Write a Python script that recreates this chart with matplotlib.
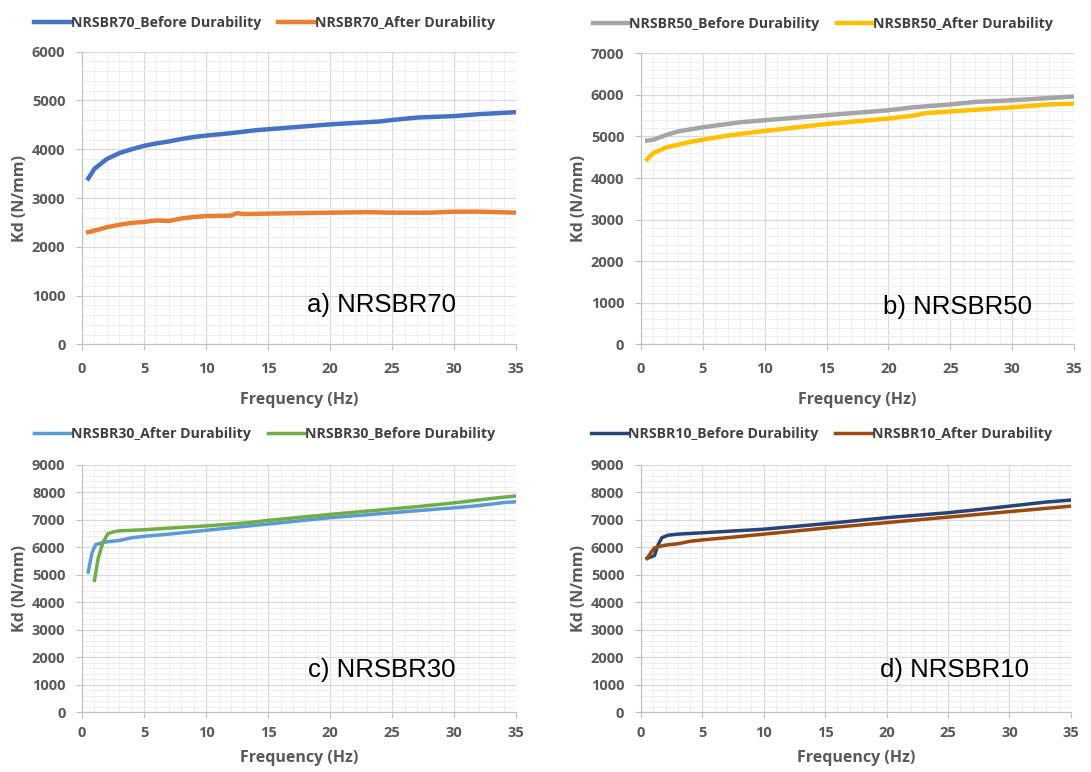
import matplotlib.pyplot as plt
from matplotlib.ticker import MultipleLocator, AutoMinorLocator

# panel a) NRSBR70
a_before_x = [0.5, 1, 2, 3, 4, 5, 6, 7, 8, 9, 10, 12, 14, 15, 17, 20, 22, 24, 25, 27, 30, 32, 35]
a_before_y = [3400, 3600, 3800, 3920, 4000, 4070, 4120, 4160, 4210, 4250, 4280, 4330, 4390, 4410,
              4450, 4510, 4540, 4570, 4600, 4650, 4680, 4720, 4760]
a_after_x = [0.5, 1, 2, 3, 4, 5, 6, 7, 8, 9, 10, 12, 12.5, 13, 15, 20, 23, 25, 28, 30, 32, 35]
a_after_y = [2300, 2330, 2400, 2450, 2490, 2510, 2540, 2530, 2580, 2610, 2630, 2640, 2690, 2670,
             2680, 2700, 2710, 2700, 2700, 2720, 2720, 2700]

# panel b) NRSBR50
b_before_x = [0.5, 1, 2, 3, 4, 5, 7, 8, 10, 15, 20, 22, 25, 27, 30, 35]
b_before_y = [4900, 4920, 5030, 5120, 5170, 5220, 5300, 5340, 5390, 5510, 5630, 5700, 5770, 5830, 5870, 5960]
b_after_x = [0.5, 1, 2, 3, 4, 5, 6, 7, 8, 10, 15, 20, 22, 23, 25, 27, 30, 33, 35]
b_after_y = [4450, 4600, 4730, 4800, 4870, 4920, 4970, 5020, 5060, 5130, 5300, 5430, 5500, 5560,
             5600, 5640, 5700, 5770, 5790]

# panel c) NRSBR30
c_after_x = [0.5, 0.8, 1.1, 1.5, 2, 3, 4, 5, 7, 10, 15, 20, 25, 28, 30, 32, 34, 35]
c_after_y = [5100, 5800, 6100, 6150, 6200, 6250, 6350, 6400, 6480, 6620, 6850, 7080, 7260, 7370,
             7440, 7520, 7630, 7660]
c_before_x = [1.0, 1.3, 1.7, 2.1, 2.5, 3, 5, 7, 10, 13, 15, 20, 25, 27, 30, 33, 35]
c_before_y = [4800, 5600, 6200, 6500, 6560, 6600, 6640, 6700, 6780, 6880, 6980, 7200, 7400, 7480,
              7620, 7780, 7870]

# panel d) NRSBR10
d_before_x = [0.5, 0.8, 1.1, 1.4, 1.7, 2.2, 3, 5, 10, 15, 20, 25, 28, 30, 33, 35]
d_before_y = [5600, 5650, 5700, 6100, 6350, 6440, 6480, 6530, 6660, 6860, 7080, 7260, 7400, 7500, 7650, 7720]
d_after_x = [0.5, 0.8, 1.1, 1.5, 2, 3, 4, 5, 7, 10, 15, 20, 25, 30, 32, 35]
d_after_y = [5600, 5800, 5980, 6030, 6080, 6130, 6220, 6270, 6350, 6480, 6700, 6900, 7100, 7300, 7380, 7500]

TXT = '#595959'
FONT = 'Open Sans'

fig = plt.figure(figsize=(10.91, 7.72), dpi=100)


def setup(ax, ymax, label, label_xy, xpad, xlpad):
    ax.set_xlim(0, 35)
    ax.set_ylim(0, ymax)
    ax.xaxis.set_major_locator(MultipleLocator(5))
    ax.yaxis.set_major_locator(MultipleLocator(1000))
    ax.xaxis.set_minor_locator(AutoMinorLocator(5))
    ax.yaxis.set_minor_locator(AutoMinorLocator(5))
    ax.grid(True, which='major', color='#d9d9d9', linewidth=0.9)
    ax.grid(True, which='minor', color='#eeeeee', linewidth=0.7)
    ax.set_axisbelow(True)
    for side in ['top', 'right']:
        ax.spines[side].set_visible(False)
    for side in ['left', 'bottom']:
        ax.spines[side].set_color('#bfbfbf')
    ax.tick_params(which='major', length=4, color='#bfbfbf', labelsize=10.5, labelcolor=TXT)
    ax.tick_params(axis='x', which='major', pad=xpad)
    ax.tick_params(axis='y', which='major', pad=8)
    ax.tick_params(which='minor', length=0)
    for t in ax.get_xticklabels() + ax.get_yticklabels():
        t.set_fontfamily(FONT)
        t.set_fontweight('bold')
    ax.set_xlabel('Frequency (Hz)', fontsize=11.5, color=TXT, fontweight='bold', family=FONT,
                  labelpad=xlpad)
    ax.set_ylabel('Kd (N/mm)', fontsize=11.5, color=TXT, fontweight='bold', family=FONT,
                  labelpad=3)
    ax.text(label_xy[0], label_xy[1], label, transform=ax.transAxes, fontsize=18.5,
            family='Liberation Sans', color='black', ha='center', va='center')


def legend(ax, x, y):
    leg = ax.legend(loc='center', bbox_to_anchor=(x, y), ncol=2, frameon=False,
                    prop={'family': FONT, 'weight': 'bold', 'size': 10.2},
                    handlelength=2.6, handletextpad=0.0, columnspacing=1.2)
    for t in leg.get_texts():
        t.set_color('#404040')


ax_a = fig.add_axes([0.0752, 0.554, 0.398, 0.379])
ax_a.plot(a_before_x, a_before_y, color='#4472C4', lw=3.2, label='NRSBR70_Before Durability')
ax_a.plot(a_after_x, a_after_y, color='#ED7D31', lw=3.2, label='NRSBR70_After Durability')
setup(ax_a, 6000, 'a) NRSBR70', (0.69, 0.133), 9, 11)
legend(ax_a, 0.42, 1.098)

ax_b = fig.add_axes([0.5875, 0.554, 0.397, 0.377])
ax_b.plot(b_before_x, b_before_y, color='#A5A5A5', lw=3.2, label='NRSBR50_Before Durability')
ax_b.plot(b_after_x, b_after_y, color='#FFC000', lw=3.2, label='NRSBR50_After Durability')
setup(ax_b, 7000, 'b) NRSBR50', (0.73, 0.128), 9, 11)
legend(ax_b, 0.42, 1.102)

ax_c = fig.add_axes([0.0752, 0.0777, 0.398, 0.320])
ax_c.plot(c_after_x, c_after_y, color='#5B9BD5', lw=2.5, label='NRSBR30_After Durability')
ax_c.plot(c_before_x, c_before_y, color='#70AD47', lw=2.5, label='NRSBR30_Before Durability')
setup(ax_c, 9000, 'c) NRSBR30', (0.69, 0.17), 6, 7)
legend(ax_c, 0.42, 1.125)

ax_d = fig.add_axes([0.5875, 0.0777, 0.394, 0.320])
ax_d.plot(d_before_x, d_before_y, color='#264478', lw=2.5, label='NRSBR10_Before Durability')
ax_d.plot(d_after_x, d_after_y, color='#9E480E', lw=2.5, label='NRSBR10_After Durability')
setup(ax_d, 9000, 'd) NRSBR10', (0.73, 0.17), 6, 7)
legend(ax_d, 0.42, 1.125)

fig.savefig('out.png', dpi=100, facecolor='white')
